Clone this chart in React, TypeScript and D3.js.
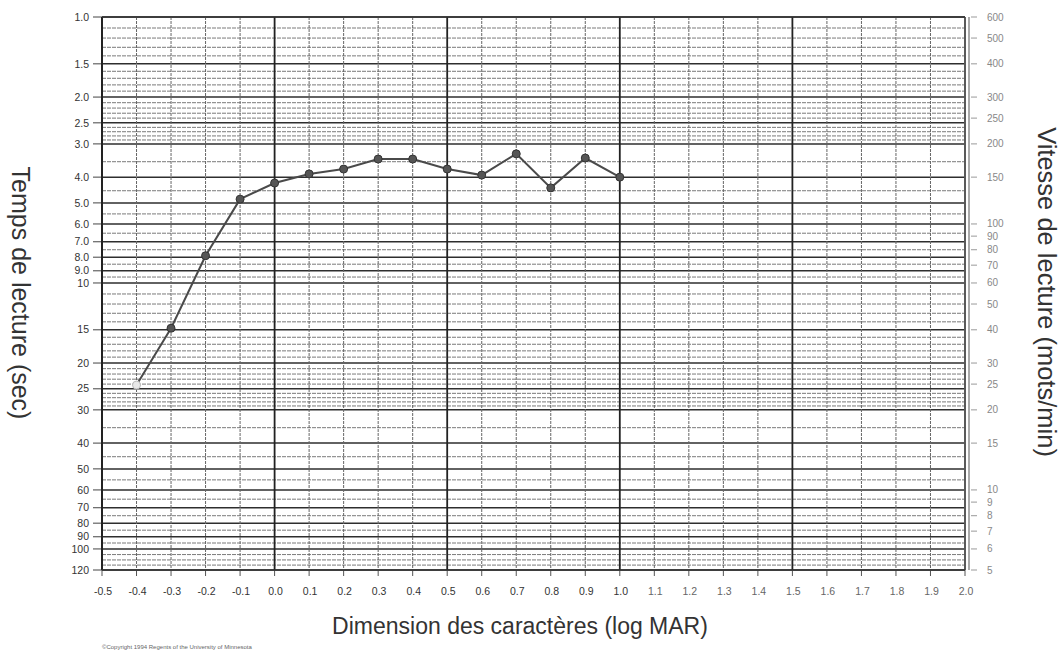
import React from "react";
import * as d3 from "d3";

const W = 1061;
const H = 656;

// Data: print size (logMAR) vs reading time (sec)
const logMAR = [-0.4, -0.3, -0.2, -0.1, 0.0, 0.1, 0.2, 0.3, 0.4, 0.5, 0.6, 0.7, 0.8, 0.9, 1.0];
const readingTime = [24.2, 14.8, 7.9, 4.84, 4.21, 3.89, 3.73, 3.42, 3.42, 3.73, 3.93, 3.27, 4.39, 3.39, 4.0];

const xTickValues = [-0.5, -0.4, -0.3, -0.2, -0.1, 0.0, 0.1, 0.2, 0.3, 0.4, 0.5, 0.6, 0.7, 0.8, 0.9, 1.0, 1.1, 1.2, 1.3, 1.4, 1.5, 1.6, 1.7, 1.8, 1.9, 2.0];
const xMajor = [-0.5, 0.0, 0.5, 1.0, 1.5, 2.0];
const leftTicks = [1.0, 1.5, 2.0, 2.5, 3.0, 4.0, 5.0, 6.0, 7.0, 8.0, 9.0, 10, 15, 20, 25, 30, 40, 50, 60, 70, 80, 90, 100, 120];
const leftTickLabels = ["1.0", "1.5", "2.0", "2.5", "3.0", "4.0", "5.0", "6.0", "7.0", "8.0", "9.0", "10", "15", "20", "25", "30", "40", "50", "60", "70", "80", "90", "100", "120"];
const rightTicks = [600, 500, 400, 300, 250, 200, 150, 100, 90, 80, 70, 60, 50, 40, 30, 25, 20, 15, 10, 9, 8, 7, 6, 5];

const plotLeft = 102;
const plotRight = 965;
const plotTop = 17;
const plotBottom = 570;

export default function App() {
  const x = d3.scaleLinear().domain([-0.5, 2.0]).range([plotLeft, plotRight]);
  const y = d3.scaleLog().domain([1, 120]).range([plotTop, plotBottom]);
  const yRight = d3.scaleLog().domain([600, 5]).range([plotTop, plotBottom]);

  const gridTimes: number[] = [
    ...d3.range(10, 30).map((v) => v / 10),
    ...d3.range(6, 20).map((v) => v / 2),
    ...d3.range(10, 30),
    ...d3.range(30, 125, 5),
  ];

  const line = d3
    .line<number>()
    .x((_, i) => x(logMAR[i]))
    .y((d) => y(d));

  const font = "'Liberation Sans', Arial, sans-serif";

  return (
    <svg width={W} height={H} style={{ position: "absolute", left: 0, top: 0, background: "#fff" }}>
      <rect x={0} y={0} width={W} height={H} fill="#fff" />
      {/* horizontal grid */}
      {gridTimes.map((t, i) => {
        const major = leftTicks.some((v) => Math.abs(v - t) < 1e-6);
        return (
          <line
            key={"h" + i}
            x1={plotLeft}
            x2={plotRight}
            y1={y(t)}
            y2={y(t)}
            stroke={major ? "#2e2e2e" : "#7a7a7a"}
            strokeWidth={major ? 1.5 : 1}
            strokeDasharray={major ? undefined : "4,1"}
          />
        );
      })}
      {/* vertical grid */}
      {xTickValues.map((v, i) => {
        const major = xMajor.some((m) => Math.abs(m - v) < 1e-6);
        return (
          <line
            key={"v" + i}
            x1={x(v)}
            x2={x(v)}
            y1={plotTop}
            y2={plotBottom}
            stroke={major ? "#222" : "#666"}
            strokeWidth={major ? 1.8 : 1}
            strokeDasharray={major ? undefined : "3,1"}
          />
        );
      })}
      {/* x ticks */}
      {xTickValues.map((v, i) => (
        <line key={"xt" + i} x1={x(v)} x2={x(v)} y1={plotBottom} y2={plotBottom + 6} stroke="#555" strokeWidth={1} />
      ))}
      {xTickValues.map((v, i) => (
        <text
          key={"xl" + i}
          x={x(v) + 1}
          y={plotBottom + 25}
          textAnchor="middle"
          fontFamily={font}
          fontSize={10.5}
          fill={v > 1.0 ? "#666" : "#333"}
        >
          {v.toFixed(1)}
        </text>
      ))}
      {/* left axis */}
      {leftTicks.map((t, i) => (
        <g key={"lt" + i}>
          <line x1={plotLeft - 9} x2={plotLeft} y1={y(t)} y2={y(t)} stroke="#444" strokeWidth={1} />
          <text
            x={plotLeft - 13}
            y={y(t)}
            dy="0.35em"
            textAnchor="end"
            fontFamily={font}
            fontSize={10.5}
            fill="#333"
          >
            {leftTickLabels[i]}
          </text>
        </g>
      ))}
      {/* right axis */}
      <line x1={plotRight + 4} x2={plotRight + 4} y1={plotTop} y2={plotBottom} stroke="#aaa" strokeWidth={2} />
      {rightTicks.map((s, i) => (
        <g key={"rt" + i}>
          <line x1={plotRight + 6} x2={plotRight + 12} y1={yRight(s)} y2={yRight(s)} stroke="#999" strokeWidth={1} />
          <text
            x={plotRight + 22}
            y={yRight(s)}
            dy="0.35em"
            textAnchor="start"
            fontFamily={font}
            fontSize={10}
            fill="#888"
          >
            {s}
          </text>
        </g>
      ))}
      {/* frame */}
      <line x1={plotLeft} x2={plotLeft} y1={plotTop} y2={plotBottom} stroke="#222" strokeWidth={2} />
      <line x1={plotRight} x2={plotRight} y1={plotTop} y2={plotBottom} stroke="#666" strokeWidth={1.5} />
      <line x1={plotLeft} x2={plotRight} y1={plotTop} y2={plotTop} stroke="#333" strokeWidth={1.5} />
      <line x1={plotLeft} x2={plotRight} y1={plotBottom} y2={plotBottom} stroke="#333" strokeWidth={1.5} />

      {/* data line */}
      <path d={line(readingTime) || ""} fill="none" stroke="#4a4a4a" strokeWidth={2} />
      {readingTime.map((t, i) => (
        <circle
          key={"p" + i}
          cx={x(logMAR[i])}
          cy={y(t)}
          r={4}
          fill={i === 0 ? "#e8e8e8" : "#555"}
          stroke={i === 0 ? "#bbb" : "#333"}
          strokeWidth={1}
        />
      ))}

      {/* axis titles */}
      <text
        transform={`translate(12, 293) rotate(90)`}
        textAnchor="middle"
        fontFamily={font}
        fontSize={25}
        fill="#333"
      >
        Temps de lecture (sec)
      </text>
      <text
        transform={`translate(1038, 292) rotate(90)`}
        textAnchor="middle"
        fontFamily={font}
        fontSize={25.5}
        fill="#333"
      >
        Vitesse de lecture (mots/min)
      </text>
      <text x={520} y={634} textAnchor="middle" fontFamily={font} fontSize={23} fill="#333">
        Dimension des caractères (log MAR)
      </text>
      <text x={102} y={649} fontFamily={font} fontSize={6} fill="#666">
        ©Copyright 1994 Regents of the University of Minnesota
      </text>
    </svg>
  );
}
